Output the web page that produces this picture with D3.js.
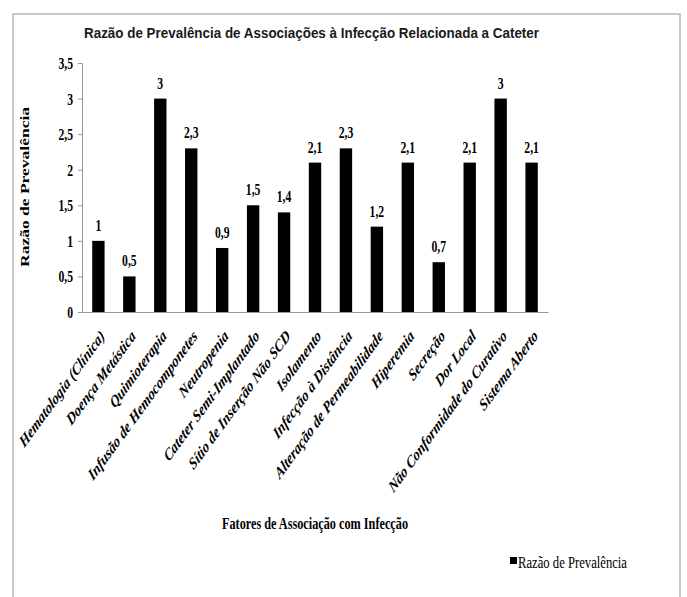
<!DOCTYPE html>
<html>
<head>
<meta charset="utf-8">
<script src="https://cdn.jsdelivr.net/npm/d3@7"></script>
<style>
  body { margin: 0; background: #fff; }
  svg { display: block; }
  .serif { font-family: "Liberation Serif", "DejaVu Serif", "Times New Roman", serif; }
</style>
</head>
<body>
<svg id="chart" width="687" height="597"></svg>
<script>
var categories = [
    "Hematologia (Clínica)", "Doença Metástica", "Quimioterapia",
    "Infusão de Hemocomponetes", "Neutropenia", "Cateter Semi-Implantado",
    "Sítio de Inserção Não SCD", "Isolamento", "Infecção à Distância",
    "Alteração de Permeabilidade", "Hiperemia", "Secreção", "Dor Local",
    "Não Conformidade do Curativo", "Sistema Aberto"
];
var values = [1, 0.5, 3, 2.3, 0.9, 1.5, 1.4, 2.1, 2.3, 1.2, 2.1, 0.7, 2.1, 3, 2.1];
var yTicks = [0, 0.5, 1, 1.5, 2, 2.5, 3, 3.5];
var seriesName = "Razão de Prevalência";

// the whole picture looks squeezed horizontally, so text is too
var SX = 0.73;
var fmt = function (v) { return String(v).replace('.', ','); };
function squeeze(px, py, extra) {
    return 'translate(' + px + ',' + py + ') scale(' + SX + ',1)' + (extra ? ' ' + extra : '');
}

var svg = d3.select('#chart');

// outer frame
svg.append('rect')
    .attr('x', 13).attr('y', 14)
    .attr('width', 667).attr('height', 600)
    .attr('fill', 'none')
    .attr('stroke', '#c8c8c8')
    .attr('stroke-width', 2);

svg.append('text')
    .attr('transform', squeeze(84, 38))
    .attr('textLength', 455 / SX)
    .attr('lengthAdjust', 'spacingAndGlyphs')
    .style('font-family', "'Liberation Sans', Arial, sans-serif")
    .style('font-size', '14px')
    .style('font-weight', 'bold')
    .style('fill', '#1a1a1a')
    .text("Razão de Prevalência de Associações à Infecção Relacionada a Cateter");

var x = d3.scaleBand()
    .domain(categories)
    .range([82, 548])
    .paddingInner(0.6)
    .paddingOuter(0.33);

var y = d3.scaleLinear()
    .domain([0, 3.5])
    .range([312, 63]);

// y axis
var yAxis = svg.append('g')
    .attr('transform', 'translate(82,0)')
    .call(d3.axisLeft(y).tickValues(yTicks).tickSize(4).tickFormat(fmt));
yAxis.attr('font-family', null).attr('font-size', null);
yAxis.select('.domain').attr('stroke', '#999');
yAxis.selectAll('.tick line').attr('stroke', '#999');
yAxis.selectAll('.tick text')
    .attr('x', null).attr('dy', null)
    .attr('class', 'serif')
    .attr('transform', squeeze(-9, 5.5))
    .style('font-size', '16px')
    .style('font-weight', 'bold')
    .style('fill', '#000');

// x axis
var xAxis = svg.append('g')
    .attr('transform', 'translate(0,312)')
    .call(d3.axisBottom(x).tickSize(0).tickFormat(''));
xAxis.select('.domain').attr('stroke', '#999');

svg.append('g').selectAll('rect')
    .data(values)
    .enter().append('rect')
    .attr('x', function (d, i) { return x(categories[i]); })
    .attr('y', function (d) { return y(d); })
    .attr('width', x.bandwidth())
    .attr('height', function (d) { return y(0) - y(d); })
    .attr('fill', '#000');

svg.append('g').selectAll('text')
    .data(values)
    .enter().append('text')
    .attr('class', 'serif')
    .attr('transform', function (d, i) {
        return squeeze(x(categories[i]) + x.bandwidth() / 2, y(d) - 10);
    })
    .attr('text-anchor', 'middle')
    .style('font-size', '16px')
    .style('font-weight', 'bold')
    .text(fmt);

// rotated category labels
svg.append('g').selectAll('text')
    .data(categories)
    .enter().append('text')
    .attr('class', 'serif')
    .attr('text-anchor', 'end')
    .attr('transform', function (d) {
        return squeeze(x(d) + x.bandwidth() / 2 + 7, 337, 'rotate(-45)');
    })
    .style('font-size', '17px')
    .style('font-weight', 'bold')
    .style('font-style', 'italic')
    .text(function (d) { return d; });

// axis titles
svg.append('text')
    .attr('class', 'serif')
    .attr('transform', squeeze(29, 187, 'rotate(-90)'))
    .attr('text-anchor', 'middle')
    .attr('textLength', 160)
    .attr('lengthAdjust', 'spacingAndGlyphs')
    .style('font-size', '17px')
    .style('font-weight', 'bold')
    .text(seriesName);

svg.append('text')
    .attr('class', 'serif')
    .attr('transform', squeeze(222, 529))
    .attr('textLength', 186 / SX)
    .attr('lengthAdjust', 'spacingAndGlyphs')
    .style('font-size', '17px')
    .style('font-weight', 'bold')
    .text("Fatores de Associação com Infecção");

// legend
var legend = svg.append('g').attr('transform', 'translate(510,557)');
legend.append('rect')
    .attr('width', 7).attr('height', 7)
    .attr('fill', '#000');
legend.append('text')
    .attr('class', 'serif')
    .attr('transform', squeeze(8, 11))
    .attr('textLength', 109 / SX)
    .attr('lengthAdjust', 'spacingAndGlyphs')
    .style('font-size', '16px')
    .text(seriesName);
</script>
</body>
</html>
